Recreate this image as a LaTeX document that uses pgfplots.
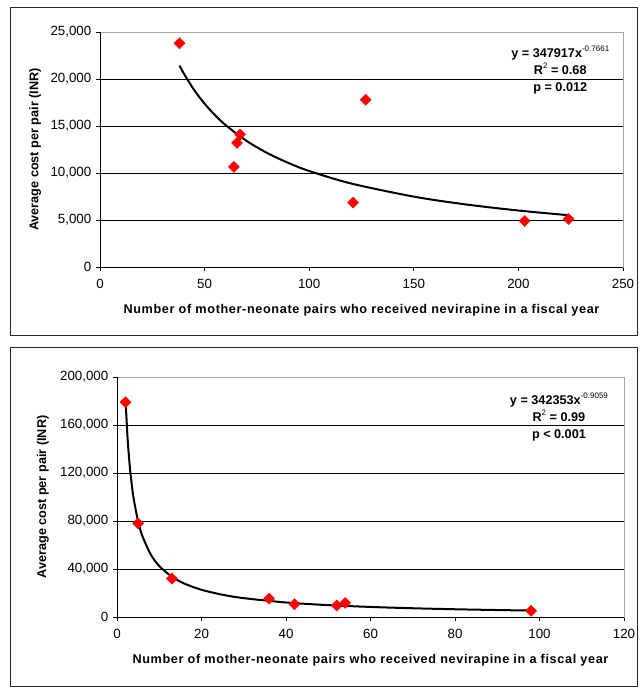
\documentclass[border=0pt]{standalone}
\usepackage{fontspec}
\setmainfont{Liberation Sans}
\usepackage{pgfplots}
\usepackage{pgfplotstable}
\pgfplotsset{compat=1.18}

\pgfplotsset{
  costaxis/.style={
    scale only axis,
    anchor=south west,
    axis line style={draw=gray!70, line width=0.6pt},
    tick align=outside,
    xtick pos=bottom, ytick pos=left,
    major tick length=3pt,
    tick style={black, line width=0.6pt},
    ymajorgrids,
    major grid style={black, line width=0.5pt},
    scaled y ticks=false,
    /pgf/number format/fixed,
    /pgf/number format/assume math mode=true,
    /pgf/number format/1000 sep={,},
    tick label style={font=\fontsize{10}{12}\selectfont},
    xticklabel style={yshift=-2.5pt},
    every axis x label/.style={anchor=center},
    every axis y label/.style={rotate=90, anchor=center},
    label style={font=\fontsize{9.5}{11}\selectfont\bfseries},
    xlabel={\addfontfeature{LetterSpace=5}Number of mother-neonate pairs who received nevirapine in a fiscal year},
    ylabel={Average cost per pair (INR)},
    clip=false,
  },
  pts/.style={only marks, mark=square*, mark size=2.9pt, color=red,
    mark options={rotate=45, fill=red, draw=red}},
  trend/.style={no marks, black, line width=1.5pt, smooth},
}

\pgfplotstableread{
x y
38 23800
64 10650
65.5 13200
67 14100
121 6850
127 17800
203 4900
224 5100
}\toppts

\pgfplotstableread{
x y
2 179000
5 78000
13 32000
36 15300
42 10600
52 9600
54 11700
98 5100
}\botpts

\begin{document}
\begin{tikzpicture}
\path[use as bounding box] (0pt,0pt) rectangle (479.25pt,-516pt);
\draw[line width=0.75pt, black!85] (7.5pt,-6pt) rectangle (477.75pt,-251.25pt);
\draw[line width=0.75pt, black!85] (7.5pt,-260.25pt) rectangle (477.75pt,-514.5pt);

\begin{axis}[costaxis,
  at={(75pt,-200.25pt)}, width=392.25pt, height=176.25pt,
  xmin=0, xmax=250, ymin=0, ymax=25000,
  xtick={0,50,100,150,200,250},
  ytick={0,5000,10000,15000,20000,25000},
  xlabel style={at={(axis description cs:0.5,-0.183)}},
  ylabel style={at={(axis description cs:-0.124,0.5)}},
]
\draw[black, line width=0.6pt] (rel axis cs:0,1) -- (rel axis cs:0,0) -- (rel axis cs:1,0);
\addplot[trend] coordinates {
(38,21435)(40,20611)(45,18836)(50,17373)(55,16151)(60,15106)(70,13423)
(80,12118)(90,11076)(100,10215)(120,8886)(150,7488)(175,6652)(200,6008)(224,5508)};
\addplot[pts] table[x=x,y=y] {\toppts};
\node[align=center, font=\fontsize{9.5}{12.75}\selectfont\bfseries] at (axis cs:220,20960)
  {y = 347917x\raisebox{0.9ex}{\fontsize{6}{6}\selectfont\mdseries -0.7661}\\
   R\raisebox{0.9ex}{\fontsize{6}{6}\selectfont\mdseries 2} = 0.68\\
   p = 0.012};
\end{axis}

\begin{axis}[costaxis,
  at={(87.75pt,-462.75pt)}, width=380.25pt, height=180pt,
  xmin=0, xmax=120, ymin=0, ymax=200000,
  xtick={0,20,40,60,80,100,120},
  ytick={0,40000,80000,120000,160000,200000},
  xlabel style={at={(axis description cs:0.5,-0.179)}},
  ylabel style={at={(axis description cs:-0.146,0.5)}},
]
\draw[black, line width=0.6pt] (rel axis cs:0,1) -- (rel axis cs:0,0) -- (rel axis cs:1,0);
\addplot[trend] coordinates {
(2,182750)(2.5,149270)(3,126570)(3.5,110050)(4,97500)(5,79660)(6,67540)(8,52040)
(10,42520)(13,33520)(16,27770)(20,22690)(25,18540)(30,15720)(40,12110)
(50,9894)(60,8388)(70,7295)(80,6460)(90,5810)(98,5378)};
\addplot[pts] table[x=x,y=y] {\botpts};
\node[align=center, font=\fontsize{9.5}{12.75}\selectfont\bfseries] at (axis cs:104.6,166700)
  {y = 342353x\raisebox{0.9ex}{\fontsize{6}{6}\selectfont\mdseries -0.9059}\\
   R\raisebox{0.9ex}{\fontsize{6}{6}\selectfont\mdseries 2} = 0.99\\
   p < 0.001};
\end{axis}
\end{tikzpicture}
\end{document}
